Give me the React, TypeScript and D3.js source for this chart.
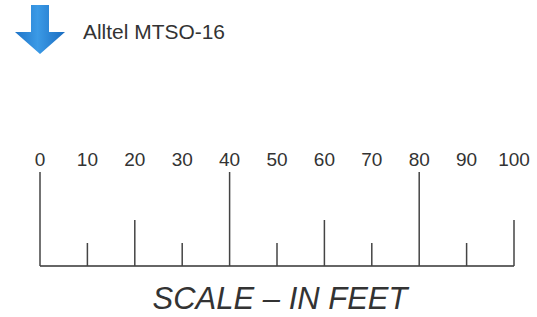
import React from "react";
import * as d3 from "d3";

const tickValues = [0, 10, 20, 30, 40, 50, 60, 70, 80, 90, 100];
const tickLabels = ["0", "10", "20", "30", "40", "50", "60", "70", "80", "90", "100"];
// tick rank: 2 = tall, 1 = medium, 0 = short
const tickRanks = [2, 0, 1, 0, 2, 0, 1, 0, 2, 0, 1];
const legendLabel = "Alltel MTSO-16";
const axisTitle = "SCALE \u2013 IN FEET";

export default function App() {
  const W = 537, H = 317;
  const x = d3.scaleLinear().domain([0, 100]).range([40, 514]);
  const baseY = 266;
  const len = d3.scaleOrdinal<number, number>().domain([0, 1, 2]).range([23, 46, 94]);
  const line = d3.line();
  const arrow = "M31,5 L49,5 L49,32 L65,32 L40,54 L15,32 L31,32 Z";
  return (
    <svg width={W} height={H} style={{ position: "absolute", left: 0, top: 0, background: "#fff" }}
      fontFamily="Liberation Sans, Arial, sans-serif">
      <defs>
        <linearGradient id="ag" x1="0" x2="1" y1="0" y2="0">
          <stop offset="0" stopColor="#1f74c8" />
          <stop offset="0.45" stopColor="#3b9ae6" />
          <stop offset="1" stopColor="#1a6cc0" />
        </linearGradient>
      </defs>
      <path d={arrow} fill="url(#ag)" />
      <text x={83} y={39} fontSize={20} fill="#333" textLength={142} lengthAdjust="spacingAndGlyphs">{legendLabel}</text>
      <path d={line([[x(0), baseY], [x(100), baseY]]) || ""} stroke="#333" strokeWidth={1.6} fill="none" />
      {tickValues.map((v, i) => (
        <g key={v}>
          <path d={line([[x(v), baseY], [x(v), baseY - len(tickRanks[i])]]) || ""} stroke="#444" strokeWidth={1.5} />
          <text x={x(v)} y={166} textAnchor="middle" fontSize={19} fill="#333">{tickLabels[i]}</text>
        </g>
      ))}
      <text x={280} y={309} textAnchor="middle" fontSize={31} fontStyle="italic" fill="#333">{axisTitle}</text>
    </svg>
  );
}
